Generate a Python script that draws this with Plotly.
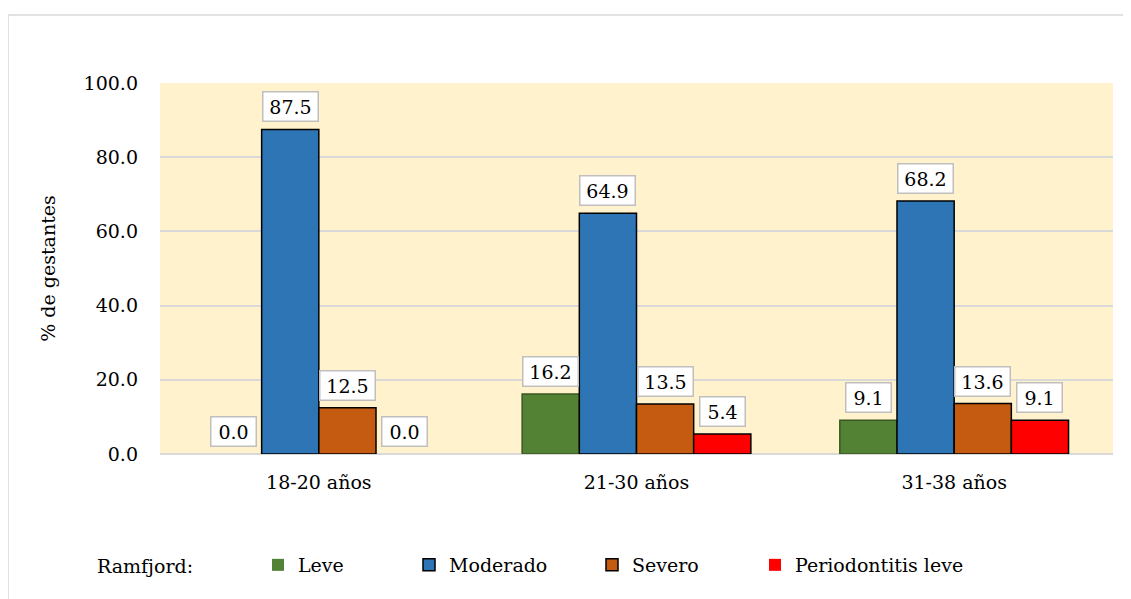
import plotly.graph_objects as go

categories = ["18-20 años", "21-30 años", "31-38 años"]
series_names = ["Leve", "Moderado", "Severo", "Periodontitis leve"]
leve = [0.0, 16.2, 9.1]
moderado = [87.5, 64.9, 68.2]
severo = [12.5, 13.5, 13.6]
periodontitis_leve = [0.0, 5.4, 9.1]
y_ticks = [0, 20, 40, 60, 80, 100]

values = [leve, moderado, severo, periodontitis_leve]
colors = ["#548235", "#2E75B6", "#C55A11", "#FF0000"]
edges = ["#385723", "#000000", "#000000", "#000000"]

OFF = 8  # page body margin
W, H = 1131 - OFF, 599 - OFF
ML, MT = 160 - OFF, 83 - OFF
PW = 953
PH = 371
MR = W - ML - PW
MB = H - MT - PH
BARGAP = 0.28
barw = PW / len(categories) * (1 - BARGAP) / len(series_names)

FONT = "DejaVu Serif"
FS = 19


def py(p):  # reference page pixel y -> paper y
    return (454 - p) / PH


def px(p):  # reference page pixel x -> paper x
    return (p - 160) / PW


fig = go.Figure()
legend_px = [258, 409, 592, 755]
for i, (name, vals) in enumerate(zip(series_names, values)):
    lg = "legend" if i == 0 else f"legend{i+1}"
    fig.add_trace(go.Bar(
        x=categories, y=vals, name=name,
        marker=dict(color=colors[i],
                    line=dict(color=edges[i], width=[0 if v == 0 else 1.5 for v in vals])),
        legend=lg, showlegend=True,
    ))
    for c, v in zip(categories, vals):
        txt = f"{v:.1f}"
        fig.add_annotation(
            x=c, y=v, xref="x", yref="y", text=txt, showarrow=False,
            xshift=(i - 1.5) * barw, yshift=7, yanchor="bottom",
            font=dict(family=FONT, size=FS, color="#000000"),
            bgcolor="#FFFFFF", bordercolor="#BFBFBF", borderwidth=1.5,
            borderpad=2, width=len(txt) * 10 + 10, height=24,
        )

legend_common = dict(
    orientation="h", yanchor="middle", xanchor="left", y=py(565),
    font=dict(family=FONT, size=FS, color="#000000"), bgcolor="rgba(0,0,0,0)",
)
layout_legends = {}
for i, p in enumerate(legend_px):
    key = "legend" if i == 0 else f"legend{i+1}"
    layout_legends[key] = dict(legend_common, x=px(p))

fig.add_annotation(
    x=px(95), y=py(566), xref="paper", yref="paper",
    text="Ramfjord:", showarrow=False, xanchor="left", yanchor="middle",
    font=dict(family=FONT, size=FS, color="#000000"),
)

# outer chart border
fig.add_shape(
    type="rect", xref="paper", yref="paper",
    x0=px(8), x1=px(1145), y0=py(615), y1=py(15),
    line=dict(color="#D9D9D9", width=1.5), fillcolor="rgba(0,0,0,0)", layer="below",
)

fig.update_layout(
    width=W, height=H,
    margin=dict(l=ML, r=MR, t=MT, b=MB),
    paper_bgcolor="#FFFFFF", plot_bgcolor="#FFF2CC",
    barmode="group", bargap=BARGAP, bargroupgap=0,
    font=dict(family=FONT, size=FS, color="#000000"),
    showlegend=True,
    **layout_legends,
)
fig.update_xaxes(
    showgrid=False, showline=False, ticks="", ticklabelstandoff=15,
    tickfont=dict(family=FONT, size=FS, color="#000000"),
)
fig.update_yaxes(
    range=[0, 100], tickvals=y_ticks, tickformat=".1f",
    showgrid=True, gridcolor="#D9D9D9", gridwidth=1.5,
    zeroline=True, zerolinecolor="#D9D9D9", zerolinewidth=1.5,
    showline=False, ticks="", ticklabelstandoff=21,
    tickfont=dict(family=FONT, size=FS, color="#000000"),
    title=dict(text="% de gestantes", font=dict(family=FONT, size=FS, color="#000000"), standoff=22),
)

fig.write_html("out.html")
